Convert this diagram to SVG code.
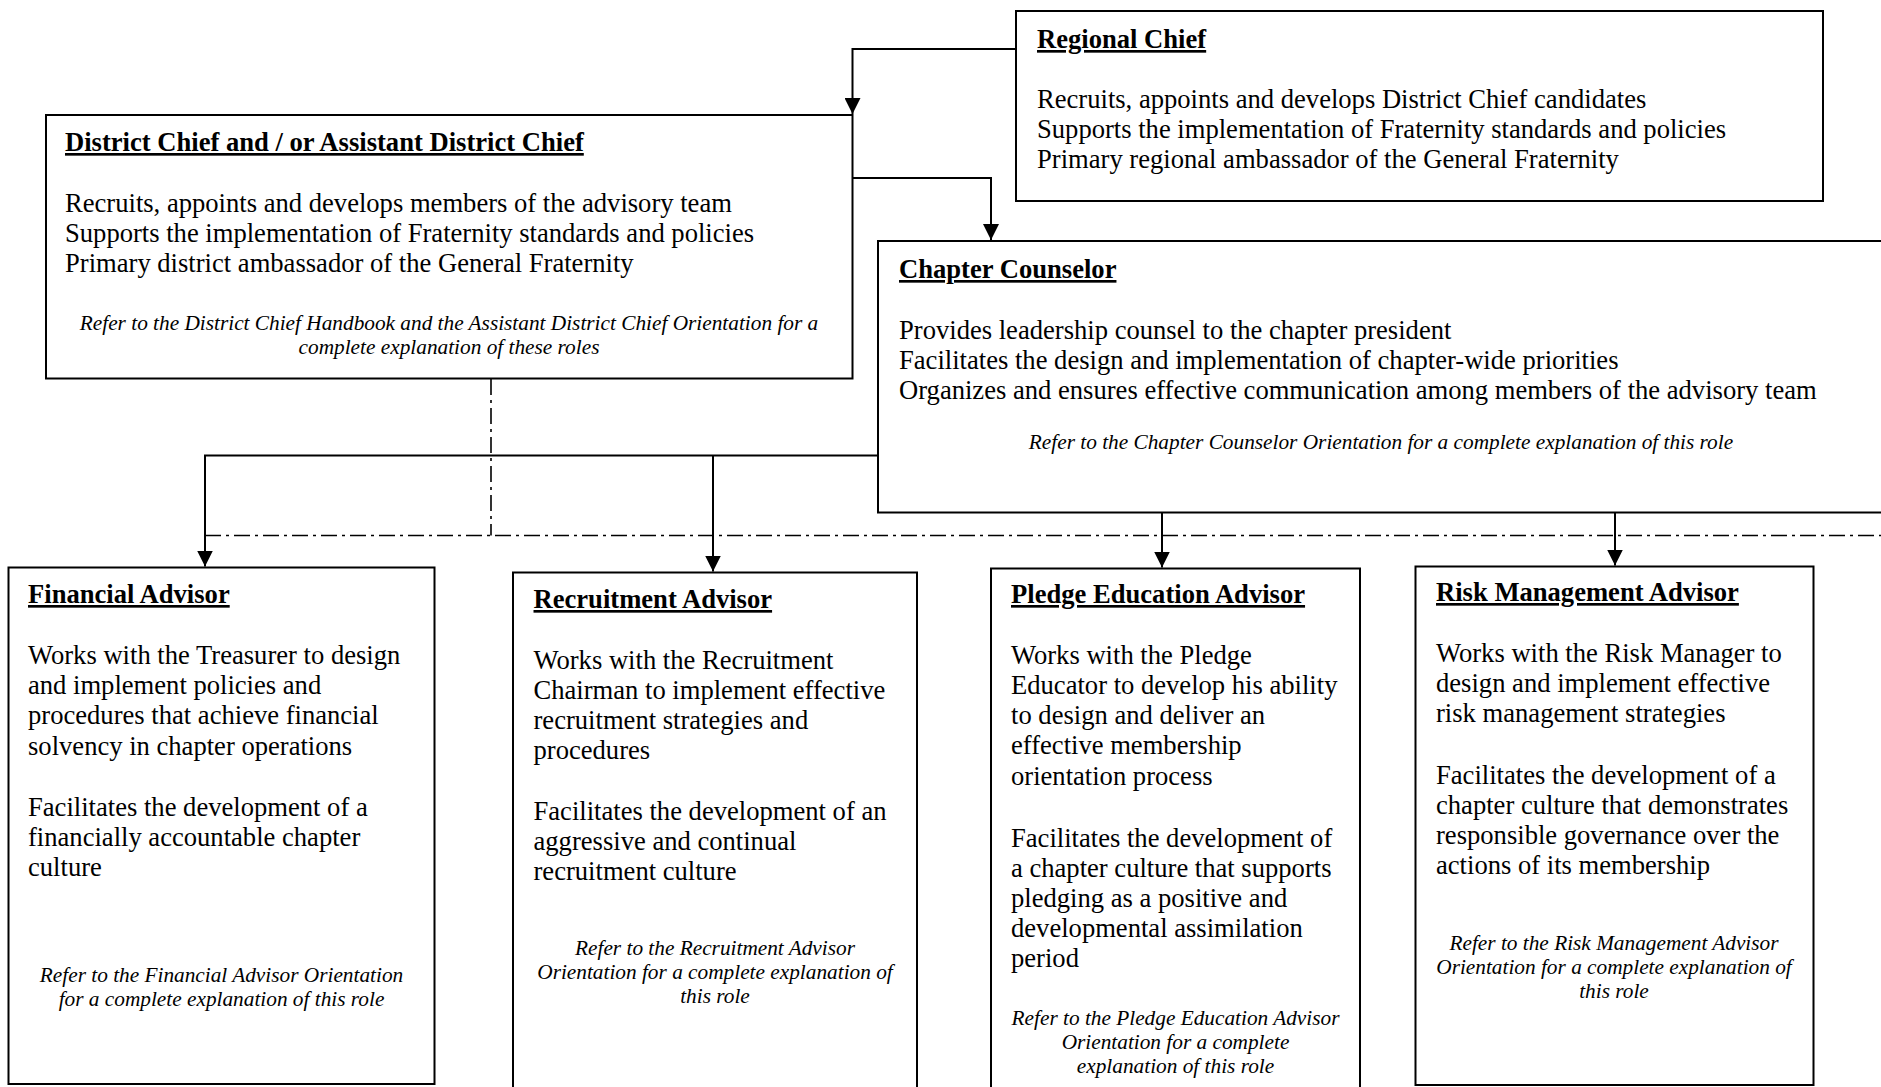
<svg xmlns="http://www.w3.org/2000/svg" width="1881" height="1087" viewBox="0 0 1881 1087">
<style>
  text { font-family: "Liberation Serif", "Times New Roman", serif; fill: #000; }
  .t { font-size: 26.6px; font-weight: bold; text-decoration: underline; }
  .b { font-size: 26.6px; }
  .n { font-size: 21.3px; font-style: italic; text-anchor: middle; }
  .box { fill: #fff; stroke: #000; stroke-width: 2; }
  .c { fill: none; stroke: #000; stroke-width: 2; }
  .dd { fill: none; stroke: #000; stroke-width: 1.6; stroke-dasharray: 16 5 3 5; }
</style>
<defs>
  <marker id="ah" markerUnits="userSpaceOnUse" markerWidth="16" markerHeight="16" viewBox="0 0 16 16" refX="16" refY="8" orient="auto">
    <path d="M0,0 L16,8 L0,16 Z" fill="#000"/>
  </marker>
</defs>
<rect width="1881" height="1087" fill="#fff"/>

<g id="connectors">
  <path class="dd" d="M491,379 V535.5 M205,535.5 H1881"/>
  <path class="c" d="M1016,49 H852.5 V114" marker-end="url(#ah)"/>
  <path class="c" d="M852.5,178 H991 V240" marker-end="url(#ah)"/>
  <path class="c" d="M878,455.5 H205 V566.5" marker-end="url(#ah)"/>
  <path class="c" d="M713,455.5 V571.5" marker-end="url(#ah)"/>
  <path class="c" d="M1162,509 V567.5" marker-end="url(#ah)"/>
  <path class="c" d="M1615,509 V565.5" marker-end="url(#ah)"/>
</g>

<g id="regional-chief">
  <rect class="box" x="1016" y="11" width="807" height="190"/>
  <text class="t" x="1037" y="48">Regional Chief</text>
  <text class="b" x="1037" y="107.5">Recruits, appoints and develops District Chief candidates</text>
  <text class="b" x="1037" y="137.5">Supports the implementation of Fraternity standards and policies</text>
  <text class="b" x="1037" y="167.5">Primary regional ambassador of the General Fraternity</text>
</g>

<g id="district-chief">
  <rect class="box" x="46" y="115" width="806.5" height="263.5"/>
  <text class="t" x="65" y="151">District Chief and / or Assistant District Chief</text>
  <text class="b" x="65" y="211.5">Recruits, appoints and develops members of the advisory team</text>
  <text class="b" x="65" y="241.5">Supports the implementation of Fraternity standards and policies</text>
  <text class="b" x="65" y="271.5">Primary district ambassador of the General Fraternity</text>
  <text class="n" x="449" y="329.5">Refer to the District Chief Handbook and the Assistant District Chief Orientation for a</text>
  <text class="n" x="449" y="354">complete explanation of these roles</text>
</g>

<g id="chapter-counselor">
  <rect class="box" x="878" y="241" width="1020" height="271.5"/>
  <text class="t" x="899" y="278">Chapter Counselor</text>
  <text class="b" x="899" y="338.5">Provides leadership counsel to the chapter president</text>
  <text class="b" x="899" y="368.5">Facilitates the design and implementation of chapter-wide priorities</text>
  <text class="b" x="899" y="398.5">Organizes and ensures effective communication among members of the advisory team</text>
  <text class="n" x="1381" y="449">Refer to the Chapter Counselor Orientation for a complete explanation of this role</text>
</g>

<g id="financial-advisor">
  <rect class="box" x="8.5" y="567.5" width="426" height="516.5"/>
  <text class="t" x="28" y="603">Financial Advisor</text>
  <text class="b" x="28" y="663.5">Works with the Treasurer to design</text>
  <text class="b" x="28" y="693.5">and implement policies and</text>
  <text class="b" x="28" y="724">procedures that achieve financial</text>
  <text class="b" x="28" y="754.5">solvency in chapter operations</text>
  <text class="b" x="28" y="815.5">Facilitates the development of a</text>
  <text class="b" x="28" y="845.5">financially accountable chapter</text>
  <text class="b" x="28" y="875.5">culture</text>
  <text class="n" x="221.5" y="982">Refer to the Financial Advisor Orientation</text>
  <text class="n" x="221.5" y="1006">for a complete explanation of this role</text>
</g>

<g id="recruitment-advisor">
  <rect class="box" x="513" y="572.5" width="404" height="530"/>
  <text class="t" x="533.5" y="608">Recruitment Advisor</text>
  <text class="b" x="533.5" y="668.5">Works with the Recruitment</text>
  <text class="b" x="533.5" y="698.5">Chairman to implement effective</text>
  <text class="b" x="533.5" y="728.5">recruitment strategies and</text>
  <text class="b" x="533.5" y="759">procedures</text>
  <text class="b" x="533.5" y="819.5">Facilitates the development of an</text>
  <text class="b" x="533.5" y="849.5">aggressive and continual</text>
  <text class="b" x="533.5" y="879.5">recruitment culture</text>
  <text class="n" x="715" y="954.5">Refer to the Recruitment Advisor</text>
  <text class="n" x="715" y="979">Orientation for a complete explanation of</text>
  <text class="n" x="715" y="1003">this role</text>
</g>

<g id="pledge-education-advisor">
  <rect class="box" x="991" y="568.5" width="369" height="530"/>
  <text class="t" x="1011" y="603">Pledge Education Advisor</text>
  <text class="b" x="1011" y="663.5">Works with the Pledge</text>
  <text class="b" x="1011" y="693.5">Educator to develop his ability</text>
  <text class="b" x="1011" y="723.5">to design and deliver an</text>
  <text class="b" x="1011" y="754">effective membership</text>
  <text class="b" x="1011" y="784.5">orientation process</text>
  <text class="b" x="1011" y="846.5">Facilitates the development of</text>
  <text class="b" x="1011" y="876.5">a chapter culture that supports</text>
  <text class="b" x="1011" y="906.5">pledging as a positive and</text>
  <text class="b" x="1011" y="936.5">developmental assimilation</text>
  <text class="b" x="1011" y="966.5">period</text>
  <text class="n" x="1175.5" y="1024.5">Refer to the Pledge Education Advisor</text>
  <text class="n" x="1175.5" y="1048.5">Orientation for a complete</text>
  <text class="n" x="1175.5" y="1073">explanation of this role</text>
</g>

<g id="risk-management-advisor">
  <rect class="box" x="1415.5" y="566.5" width="398" height="518.5"/>
  <text class="t" x="1436" y="601">Risk Management Advisor</text>
  <text class="b" x="1436" y="661.5">Works with the Risk Manager to</text>
  <text class="b" x="1436" y="691.5">design and implement effective</text>
  <text class="b" x="1436" y="721.5">risk management strategies</text>
  <text class="b" x="1436" y="783.5">Facilitates the development of a</text>
  <text class="b" x="1436" y="813.5">chapter culture that demonstrates</text>
  <text class="b" x="1436" y="843.5">responsible governance over the</text>
  <text class="b" x="1436" y="873.5">actions of its membership</text>
  <text class="n" x="1614" y="949.5">Refer to the Risk Management Advisor</text>
  <text class="n" x="1614" y="974">Orientation for a complete explanation of</text>
  <text class="n" x="1614" y="998">this role</text>
</g>
</svg>
